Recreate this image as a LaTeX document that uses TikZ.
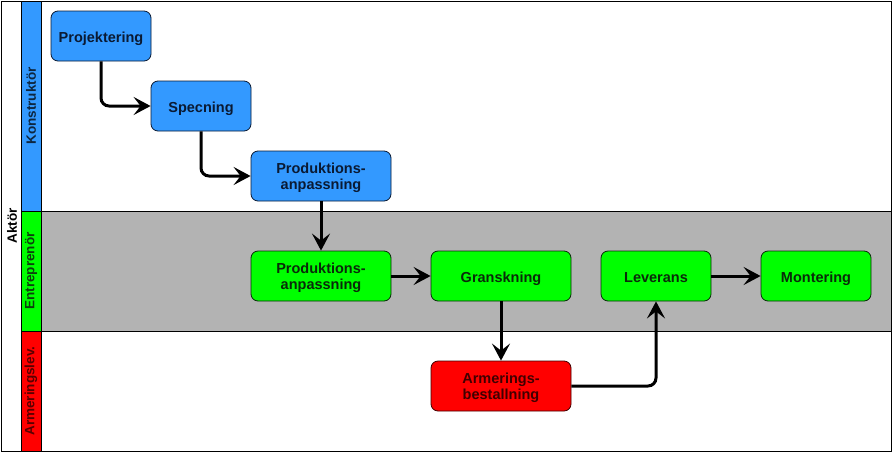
\documentclass[tikz,border=0pt]{standalone}
\usepackage{fontspec}
\setmainfont{Liberation Sans}
\usetikzlibrary{arrows.meta}
\definecolor{cblue}{HTML}{3399FF}
\definecolor{cgreen}{HTML}{00FF00}
\definecolor{cred}{HTML}{FF0000}
\definecolor{cgray}{HTML}{B3B3B3}
\definecolor{tblue}{HTML}{0A1A33}
\definecolor{tgreen}{HTML}{0A2A0A}
\definecolor{tred}{HTML}{400000}
\definecolor{lblue}{HTML}{0D2640}
\definecolor{lgreen}{HTML}{0D400D}
\definecolor{lred}{HTML}{5A0000}
\begin{document}
\begin{tikzpicture}[x=1pt,y=-1pt,
  box/.style={rounded corners=7pt, line width=0.8pt, minimum height=50pt,
    font=\fontsize{14.5}{16}\selectfont\bfseries, align=center, inner sep=0pt},
  oneline/.style={text height=14pt, text depth=0.6pt},
  twoline/.style={text height=28pt, text depth=0.6pt},
  bluebox/.style={box, fill=cblue, draw=tblue, text=tblue},
  greenbox/.style={box, fill=cgreen, draw=tgreen, text=tgreen},
  redbox/.style={box, fill=cred, draw=tred, text=tred},
  lanelabel/.style={rotate=90, font=\fontsize{13.5}{15}\selectfont\bfseries, inner sep=0pt},
  arr/.style={line width=3pt, rounded corners=8pt, -{Stealth[length=17pt,width=18pt,inset=7pt]}}]
\useasboundingbox (0,0) rectangle (893,453);
% lanes
\fill[white] (0,0) rectangle (893,453);
\fill[cgray] (41,211) rectangle (891,331);
\fill[cblue] (21,1) rectangle (41,211);
\fill[cgreen] (21,211) rectangle (41,331);
\fill[cred] (21,331) rectangle (41,451);
\draw[line width=0.8pt] (41,211) -- (891,211);
\draw[line width=0.8pt] (41,331) -- (891,331);
\draw[line width=0.8pt] (21,211) -- (41,211);
\draw[line width=0.8pt] (21,331) -- (41,331);
\draw[line width=0.8pt] (21,1) -- (21,451);
\draw[line width=0.8pt] (41,1) -- (41,451);
\draw[line width=1pt] (1,1) rectangle (891,451);
\node[lanelabel, text=black] (aktor) at (12,226) {Aktör};
\node[lanelabel, text=lblue] (konst) at (31,106) {Konstruktör};
\node[lanelabel, text=lgreen] (entr) at (31,271) {Entreprenör};
\node[lanelabel, text=lred] (arml) at (31,391) {Armeringslev.};
% nodes
\node[bluebox, oneline, minimum width=100pt] (proj) at (101,36) {Projektering};
\node[bluebox, oneline, minimum width=100pt] (spec) at (201,106) {Specning};
\node[bluebox, twoline, minimum width=140pt] (pa1) at (321,176) {Produktions-\\anpassning};
\node[greenbox, twoline, minimum width=140pt] (pa2) at (321,276) {Produktions-\\anpassning};
\node[greenbox, oneline, minimum width=140pt] (gran) at (501,276) {Granskning};
\node[greenbox, oneline, minimum width=110pt] (lev) at (656,276) {Leverans};
\node[greenbox, oneline, minimum width=110pt] (mont) at (816,276) {Montering};
\node[redbox, twoline, minimum width=140pt] (arm) at (501,386) {Armerings-\\bestallning};
% connectors
\draw[arr] (proj.south) |- (spec.west);
\draw[arr] (spec.south) |- (pa1.west);
\draw[arr] (pa1.south) -- (pa2.north);
\draw[arr] (pa2.east) -- (gran.west);
\draw[arr] (gran.south) -- (arm.north);
\draw[arr] (arm.east) -| (lev.south);
\draw[arr] (lev.east) -- (mont.west);
\end{tikzpicture}
\end{document}
